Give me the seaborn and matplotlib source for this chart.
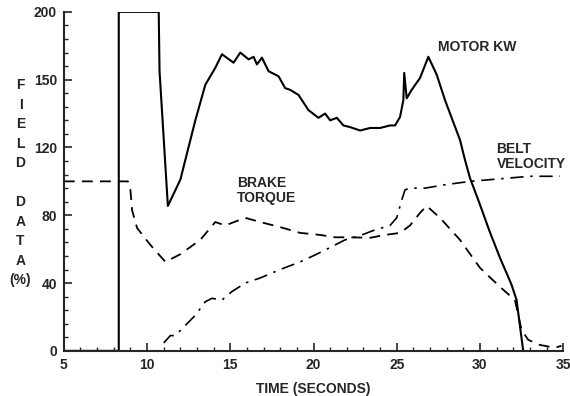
import numpy as np
import pandas as pd
import matplotlib.pyplot as plt
import seaborn as sns
from matplotlib.ticker import MultipleLocator

# Motor KW (solid)
motor_t = [5.0, 8.3, 8.3, 10.7, 10.75, 11.25, 12.0, 12.9, 13.5, 14.1, 14.5, 15.2, 15.6, 16.1,
           16.4, 16.6, 16.9, 17.3, 17.9, 18.3, 18.6, 19.1, 19.7, 20.3, 20.7, 21.0, 21.4,
           21.8, 22.2, 22.8, 23.4, 24.0, 24.6, 24.9, 25.2, 25.4, 25.45, 25.6, 25.9, 26.4,
           26.9, 27.4, 27.9, 28.3, 28.8, 29.1, 29.4, 29.9, 30.6, 31.2, 31.9, 32.2, 32.4, 32.6]
motor_kw = [0, 0, 200, 200, 165, 85.5, 101, 136, 157, 167, 175, 170, 176, 172,
            173.5, 169, 173, 165, 162, 155, 154, 151, 142, 137.5, 140, 136, 137.5,
            133, 132, 130, 131.5, 131.5, 133, 133, 138, 148, 164, 149, 154, 161,
            173.5, 163, 148, 137.5, 124.5, 112.7, 102, 89, 70, 55, 39, 30, 15, 0]

# Brake torque (dashed)
brake_t = [5.0, 8.85, 9.0, 9.1, 9.4, 10.2, 11.1, 11.4, 12.0, 13.2, 14.1, 14.7, 15.9, 16.8,
           18.0, 19.2, 20.4, 21.3, 22.2, 23.4, 24.3, 25.2, 25.8, 26.4, 26.8, 27.6, 28.8,
           30.0, 31.2, 32.1, 32.5, 32.9, 33.6, 34.5, 34.9]
brake_torque = [100, 100, 95, 83, 72.5, 62.5, 52.5, 54, 57, 65.5, 76, 74, 78.5, 76,
                73, 69.6, 68.4, 67, 67, 66.7, 68.4, 69.6, 74, 81.4, 85.5, 78.5, 65.5,
                49, 37.8, 30, 12.4, 6.5, 3.5, 1.8, 3]

# Belt velocity (dash-dot)
belt_t = [11.0, 11.4, 11.7, 12.3, 12.9, 13.5, 13.9, 14.5, 15.1, 15.9, 16.8, 18.0, 19.2,
          20.1, 21.0, 21.9, 22.8, 23.7, 24.6, 25.0, 25.3, 25.5, 25.8, 26.7, 27.9, 29.4,
          30.6, 31.8, 33.0, 34.8]
belt_velocity = [4.7, 9, 9, 15, 21, 29, 31, 30, 35, 40, 43, 48, 52.5,
                 56.6, 61, 65.5, 68, 71.4, 74, 78.5, 89, 95, 96, 96, 98, 100,
                 101, 102, 103, 103]

sns.set_style("ticks")
plt.rcParams['font.family'] = ['Liberation Sans', 'DejaVu Sans']
plt.rcParams['font.weight'] = 'bold'

fig = plt.figure(figsize=(5.7, 3.96), dpi=100)
ax = fig.add_axes([0.112, 0.114, 0.876, 0.856])

common = dict(ax=ax, color='black', sort=False, estimator=None, errorbar=None)
sns.lineplot(x=motor_t, y=motor_kw, lw=1.5, **common)
sns.lineplot(x=brake_t, y=brake_torque, lw=1.3, linestyle=(0, (6, 4)), **common)
sns.lineplot(x=belt_t, y=belt_velocity, lw=1.2, linestyle=(0, (8, 4, 1.5, 4)), **common)

ax.set_xlim(5, 35)
ax.set_ylim(0, 200)
ax.set_xticks([5, 10, 15, 20, 25, 30, 35])
ax.set_yticks([0, 40, 80, 120, 160, 200])
ax.set_yticklabels(['0', '40', '80', '120', '150', '200'])
ax.xaxis.set_minor_locator(MultipleLocator(1))
ax.yaxis.set_minor_locator(MultipleLocator(8))
ax.tick_params(which='major', direction='in', length=6, width=1.2, labelsize=10, pad=5)
ax.tick_params(which='minor', direction='in', length=3, width=1)
for lab in ax.get_xticklabels() + ax.get_yticklabels():
    lab.set_fontweight('bold')
sns.despine(ax=ax)
ax.spines['left'].set_linewidth(1.5)
ax.spines['bottom'].set_linewidth(1.5)

ax.set_xlabel('TIME (SECONDS)', fontsize=10, fontweight='bold', labelpad=7)
fig.text(0.036, 0.538, 'F\nI\nE\nL\nD\n\nD\nA\nT\nA\n(%)', ha='center', va='center',
         fontsize=10, fontweight='bold', linespacing=1.5)

ax.text(27.5, 175, 'MOTOR KW', fontsize=10, fontweight='bold', va='bottom')
ax.text(31.0, 106, 'BELT\nVELOCITY', fontsize=10, fontweight='bold', va='bottom',
        linespacing=1.1)
ax.text(15.4, 86, 'BRAKE\nTORQUE', fontsize=10, fontweight='bold', va='bottom',
        linespacing=1.1)

fig.savefig('out.png', dpi=100)
